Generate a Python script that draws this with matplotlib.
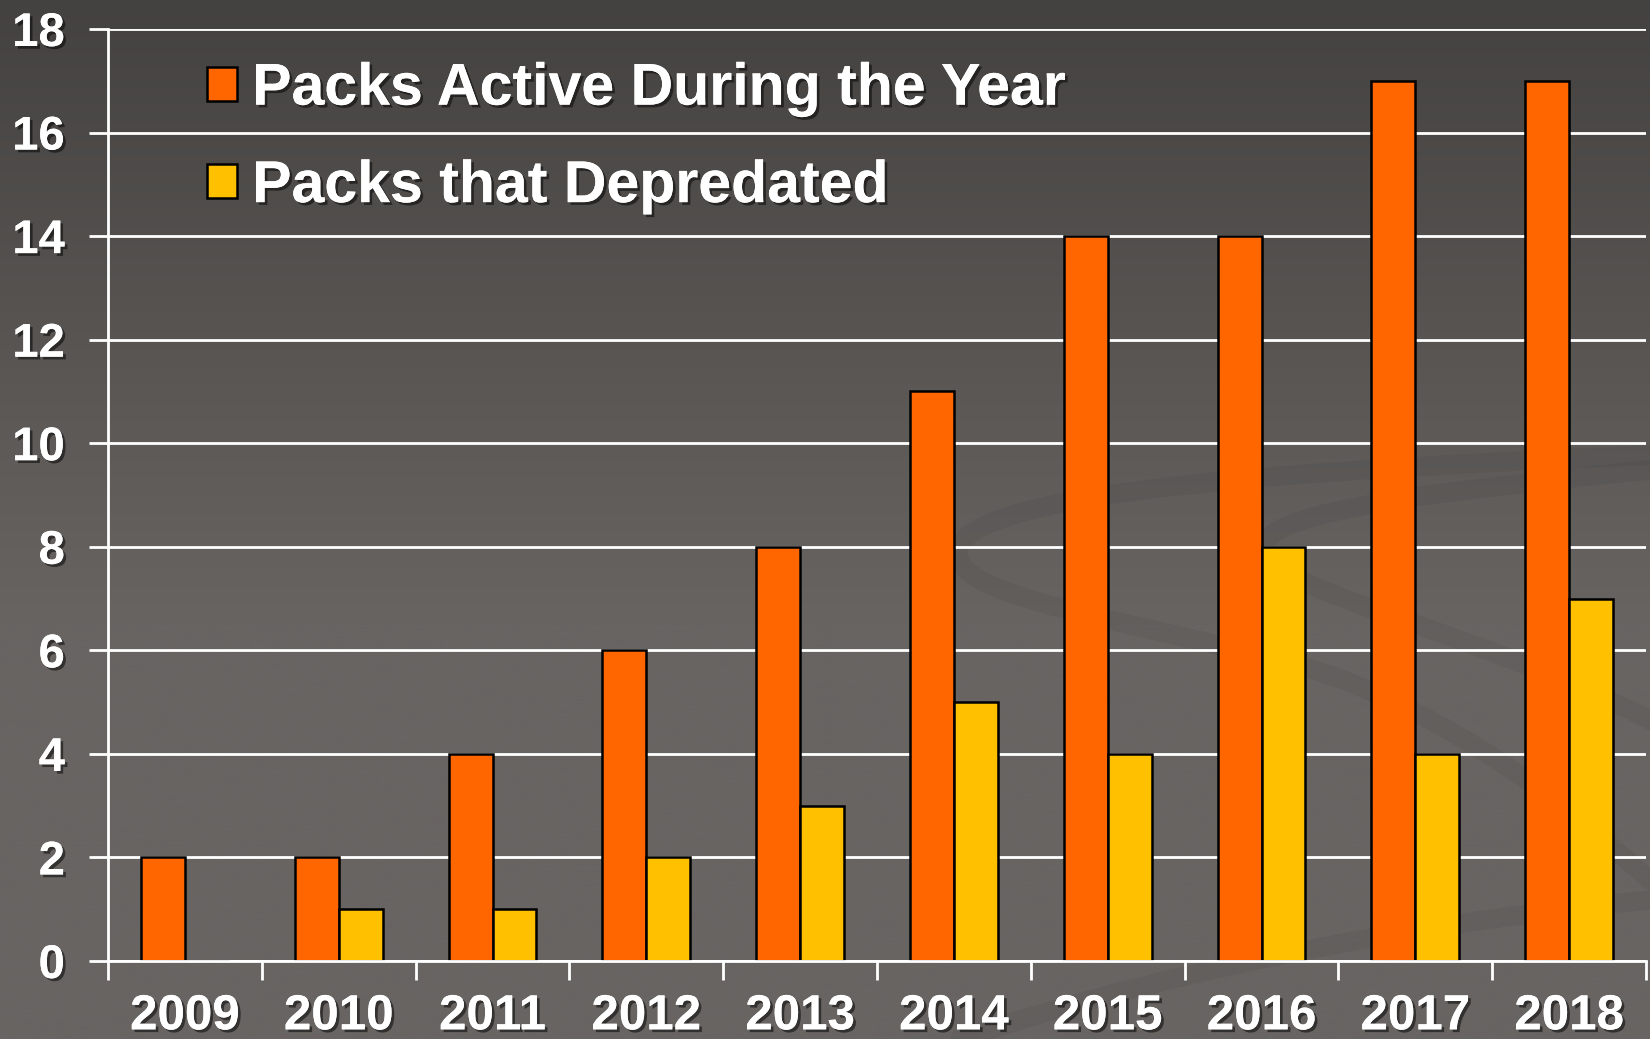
import numpy as np
import matplotlib
matplotlib.use("Agg")
import matplotlib.pyplot as plt
import matplotlib.patheffects as pe
from matplotlib.patches import Patch, PathPatch
from matplotlib.path import Path

# data
years = ["2009", "2010", "2011", "2012", "2013", "2014", "2015", "2016", "2017", "2018"]
packs_active = [2, 2, 4, 6, 8, 11, 14, 14, 17, 17]
packs_depredated = [0, 1, 1, 2, 3, 5, 4, 8, 4, 7]
y_ticks = [0, 2, 4, 6, 8, 10, 12, 14, 16, 18]

orange = "#FF6600"
yellow = "#FFC000"

plt.rcParams["font.family"] = ["Liberation Sans", "DejaVu Sans"]
plt.rcParams["font.weight"] = "bold"

W, H = 1650, 1039
fig = plt.figure(figsize=(W / 100, H / 100), dpi=100)

# fond en degradé (haut sombre -> bas plus clair)
bg = fig.add_axes([0, 0, 1, 1], zorder=-10)
t = np.linspace(0, 1, 400)
top = np.array([0x44, 0x42, 0x40]) / 255
low = np.array([0x68, 0x64, 0x62]) / 255
w = np.clip(t / 0.6, 0, 1)[:, None]
grad = top * (1 - w) + low * w
bg.imshow(grad[:, None, :], aspect="auto", extent=[0, W, H, 0])
bg.set_xlim(0, W)
bg.set_ylim(H, 0)
bg.axis("off")

# volutes décoratives du fond (pixels)
C = Path.CURVE4
swirls = [
    [(1650, 455), (1300, 470), (990, 490), (960, 545), (935, 600), (1150, 620), (1330, 675),
     (1480, 730), (1580, 820), (1650, 880)],
    [(1650, 470), (1450, 490), (1270, 510), (1265, 545), (1260, 590), (1450, 620), (1650, 720)],
    [(960, 1039), (1200, 960), (1450, 920), (1650, 900)],
]
for pts in swirls:
    codes = [Path.MOVETO] + [C] * (len(pts) - 1)
    bg.add_patch(PathPatch(Path(pts, codes), facecolor="none", edgecolor="black",
                           lw=14, alpha=0.045, capstyle="round"))

ax = fig.add_axes([108 / W, 1 - 961 / H, (1646 - 108) / W, (961 - 29) / H])
ax.patch.set_alpha(0)

shadow = [pe.withSimplePatchShadow(offset=(2, -2), shadow_rgbFace="black", alpha=0.5), pe.Normal()]

x = np.arange(len(years))
bw = 0.285
ax.bar(x - bw / 2, packs_active, bw, color=orange, edgecolor="black", linewidth=1.8, zorder=3)
ax.bar(x + bw / 2, packs_depredated, bw, color=yellow, edgecolor="black", linewidth=1.8, zorder=3)

ax.set_xlim(-0.5, len(years) - 0.5)
ax.set_ylim(0, 18)
ax.set_yticks(y_ticks)
ax.set_yticklabels([str(v) for v in y_ticks])
ax.grid(axis="y", color="white", linewidth=2, zorder=1)
ax.set_axisbelow(True)

# ticks de catégorie aux bornes
ax.set_xticks(np.arange(-0.5, len(years), 1.0))
ax.set_xticklabels([])
ax.set_xticks(x, minor=True)
ax.set_xticklabels(years, minor=True)
ax.tick_params(axis="x", which="major", length=14, width=2, color="white")
ax.tick_params(axis="x", which="minor", length=0, pad=24, labelsize=35.5, labelcolor="white")
ax.tick_params(axis="y", length=14, width=2, color="white", labelsize=34, labelcolor="white", pad=17)

for lab in ax.get_xticklabels(minor=True) + ax.get_yticklabels():
    lab.set_fontweight("bold")
    lab.set_path_effects(shadow)

for s in ["top", "right"]:
    ax.spines[s].set_visible(False)
for s in ["left", "bottom"]:
    ax.spines[s].set_color("white")
    ax.spines[s].set_linewidth(2)
    ax.spines[s].set_zorder(4)

handles = [Patch(facecolor=orange, edgecolor="black", linewidth=1.8),
           Patch(facecolor=yellow, edgecolor="black", linewidth=1.8)]
leg = ax.legend(handles, ["Packs Active During the Year", "Packs that Depredated"],
                loc="upper left", bbox_to_anchor=(0.03, 1.022), frameon=False,
                fontsize=42.5, handlelength=0.51, handleheight=0.51,
                handletextpad=0.25, labelspacing=0.72)
for txt in leg.get_texts():
    txt.set_color("white")
    txt.set_fontweight("bold")
    txt.set_path_effects(shadow)

fig.savefig("out.png", dpi=100)
